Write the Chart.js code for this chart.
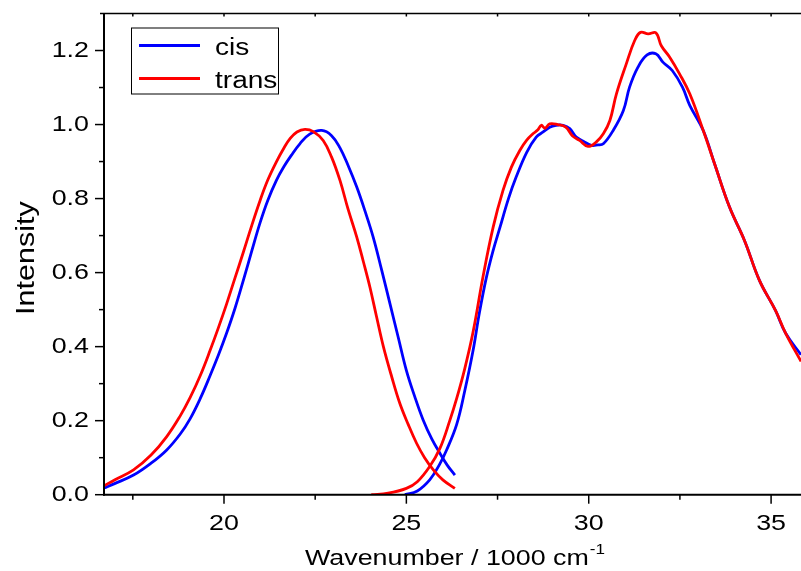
<!DOCTYPE html>
<html>
<head>
<meta charset="utf-8">
<script src="https://cdn.jsdelivr.net/npm/chart.js@4.4.0/dist/chart.umd.min.js"></script>
<style>
  html, body { margin: 0; padding: 0; background: #fff; }
  canvas { display: block; }
</style>
</head>
<body>
<canvas id="chart" width="801" height="571"></canvas>
<script>
// spectra (x in 1000 cm-1)
const cisVisX = [16.71, 17.0, 17.52, 18.0, 18.43, 18.8, 19.07, 19.35, 19.62, 19.85, 20.07, 20.3, 20.53, 20.76, 20.99, 21.2, 21.44, 21.64, 21.84, 22.08, 22.35, 22.68, 22.95, 23.18, 23.4, 23.64, 23.86, 24.09, 24.32, 24.55, 24.78, 25.0, 25.23, 25.46, 25.7, 25.92, 26.12, 26.33];
const cisVisY = [0.018, 0.03, 0.053, 0.085, 0.121, 0.164, 0.205, 0.26, 0.322, 0.378, 0.436, 0.503, 0.579, 0.658, 0.735, 0.795, 0.85, 0.886, 0.916, 0.948, 0.974, 0.984, 0.97, 0.937, 0.89, 0.831, 0.768, 0.696, 0.608, 0.516, 0.424, 0.336, 0.265, 0.202, 0.15, 0.112, 0.08, 0.053];
const cisUvX = [24.96, 25.3, 25.64, 25.9, 26.1, 26.38, 26.6, 26.83, 27.0, 27.19, 27.38, 27.56, 27.8, 28.01, 28.3, 28.56, 28.75, 28.93, 29.1, 29.3, 29.48, 29.66, 29.85, 30.07, 30.25, 30.4, 30.67, 30.95, 31.12, 31.35, 31.6, 31.84, 32.04, 32.29, 32.57, 32.77, 33.14, 33.45, 33.86, 34.27, 34.68, 35.12, 35.4, 35.82];
const cisUvY = [0.0, 0.01, 0.04, 0.08, 0.12, 0.19, 0.28, 0.39, 0.49, 0.585, 0.66, 0.72, 0.80, 0.858, 0.925, 0.966, 0.98, 0.993, 0.998, 0.998, 0.989, 0.966, 0.955, 0.944, 0.945, 0.948, 0.984, 1.038, 1.101, 1.155, 1.188, 1.191, 1.168, 1.146, 1.101, 1.052, 0.984, 0.894, 0.777, 0.687, 0.579, 0.498, 0.436, 0.378];
const transVisX = [16.71, 17.0, 17.52, 18.0, 18.43, 18.8, 19.07, 19.35, 19.62, 19.85, 20.07, 20.3, 20.53, 20.76, 20.99, 21.2, 21.44, 21.64, 21.81, 22.0, 22.22, 22.45, 22.72, 22.95, 23.18, 23.4, 23.64, 23.82, 24.0, 24.18, 24.37, 24.6, 24.82, 25.05, 25.28, 25.5, 25.74, 26.0, 26.33];
const transVisY = [0.024, 0.04, 0.067, 0.107, 0.157, 0.213, 0.262, 0.322, 0.39, 0.452, 0.515, 0.585, 0.655, 0.727, 0.795, 0.85, 0.9, 0.936, 0.962, 0.98, 0.987, 0.981, 0.957, 0.912, 0.849, 0.772, 0.696, 0.63, 0.561, 0.482, 0.40, 0.318, 0.247, 0.19, 0.139, 0.10, 0.067, 0.04, 0.017];
const transUvX = [24.04, 24.5, 25.0, 25.3, 25.64, 25.92, 26.19, 26.38, 26.6, 26.83, 27.1, 27.38, 27.65, 27.88, 28.11, 28.3, 28.47, 28.6, 28.7, 28.8, 28.93, 29.15, 29.37, 29.55, 29.75, 29.98, 30.21, 30.4, 30.58, 30.76, 31.03, 31.26, 31.42, 31.63, 31.84, 31.99, 32.22, 32.49, 32.77, 33.14, 33.45, 33.86, 34.27, 34.68, 35.12, 35.4, 35.82];
const transUvY = [0.0, 0.004, 0.017, 0.035, 0.076, 0.125, 0.20, 0.26, 0.34, 0.44, 0.588, 0.723, 0.822, 0.885, 0.930, 0.958, 0.975, 0.985, 0.998, 0.99, 1.002, 1.0, 0.993, 0.97, 0.957, 0.941, 0.953, 0.975, 1.011, 1.083, 1.164, 1.227, 1.249, 1.245, 1.248, 1.213, 1.182, 1.137, 1.083, 0.984, 0.894, 0.777, 0.687, 0.579, 0.498, 0.436, 0.36];

const seriesNames = ['cis', 'trans'];
const seriesColors = ['#0000ff', '#ff0000'];

const xMajorTicks = [20, 25, 30, 35];
const xMinorTicks = [17.5, 22.5, 27.5, 32.5];
const yMajorTicks = [0.0, 0.2, 0.4, 0.6, 0.8, 1.0, 1.2];
const yMinorTicks = [0.1, 0.3, 0.5, 0.7, 0.9, 1.1];

const xTitle = 'Wavenumber / 1000 cm';
const xTitleSup = '-1';
const yTitle = 'Intensity';

const FONT = '"Liberation Sans", Arial, sans-serif';
const SX = 1.22; // the text in the figure is wider than plain Arial

function pts(xs, ys) { return xs.map((v, i) => ({ x: v, y: ys[i] })); }

function text(ctx, str, x, y, size, align, baseline, rot) {
  ctx.save();
  ctx.translate(x, y);
  if (rot) ctx.rotate(rot);
  ctx.scale(SX, 1);
  ctx.font = size + 'px ' + FONT;
  ctx.fillStyle = '#000';
  ctx.textAlign = align;
  ctx.textBaseline = baseline;
  ctx.fillText(str, 0, 0);
  ctx.restore();
}

const frame = {
  id: 'frame',
  afterDraw(chart) {
    const { ctx, chartArea: a, scales: { x, y } } = chart;
    ctx.save();
    ctx.strokeStyle = '#000';
    const seg = (x1, y1, x2, y2, w) => {
      ctx.lineWidth = w;
      ctx.beginPath(); ctx.moveTo(x1, y1); ctx.lineTo(x2, y2); ctx.stroke();
    };
    // axes
    seg(a.left - 4, a.top, a.right, a.top, 1.5);
    seg(a.left, a.top, a.left, a.bottom + 1, 2);
    seg(a.left - 1, a.bottom, a.right, a.bottom, 2);
    // ticks
    xMajorTicks.forEach(v => {
      const p = x.getPixelForValue(v);
      seg(p, a.bottom, p, a.bottom + 9, 1.5);
      seg(p, a.top, p, a.top + 3, 1.5);
    });
    xMinorTicks.forEach(v => {
      const p = x.getPixelForValue(v);
      seg(p, a.bottom, p, a.bottom + 5, 1.5);
      seg(p, a.top, p, a.top + 3, 1.5);
    });
    yMajorTicks.forEach(v => {
      const p = y.getPixelForValue(v);
      seg(a.left - 9, p, a.left, p, 1.5);
    });
    yMinorTicks.forEach(v => {
      const p = y.getPixelForValue(v);
      seg(a.left - 5, p, a.left, p, 1.5);
    });
    ctx.restore();

    // tick labels
    xMajorTicks.forEach(v => text(ctx, String(v), x.getPixelForValue(v), a.bottom + 29, 22, 'center', 'middle'));
    yMajorTicks.forEach(v => text(ctx, v.toFixed(1), a.left - 15, y.getPixelForValue(v), 22, 'right', 'middle'));

    // axis titles
    ctx.save();
    ctx.font = '22px ' + FONT;
    const wMain = ctx.measureText(xTitle).width * SX;
    ctx.font = '14px ' + FONT;
    const wSup = ctx.measureText(xTitleSup).width * SX;
    ctx.restore();
    const cx = (a.left + a.right) / 2;
    const startX = cx - (wMain + wSup) / 2 + 2;
    text(ctx, xTitle, startX, 565, 22, 'left', 'alphabetic');
    text(ctx, xTitleSup, startX + wMain + 1, 554, 14, 'left', 'alphabetic');
    text(ctx, yTitle, 27, (a.top + a.bottom) / 2 + 4, 25, 'center', 'middle', -Math.PI / 2);

    // legend
    const lx = a.left + 27, ly = a.top + 14;
    ctx.save();
    ctx.strokeStyle = '#000';
    ctx.lineWidth = 1;
    ctx.strokeRect(lx + 0.5, ly + 0.5, 147, 66);
    seriesNames.forEach((name, i) => {
      const rowY = ly + 18 + i * 33;
      ctx.strokeStyle = seriesColors[i];
      ctx.lineWidth = 2.8;
      ctx.beginPath(); ctx.moveTo(lx + 8, rowY); ctx.lineTo(lx + 69, rowY); ctx.stroke();
      text(ctx, name, lx + 84, rowY + 9, 23, 'left', 'alphabetic');
    });
    ctx.restore();
  }
};

const lineStyle = { showLine: true, pointRadius: 0, borderWidth: 2.8, fill: false, tension: 0.4 };

new Chart(document.getElementById('chart'), {
  type: 'scatter',
  data: {
    datasets: [
      { label: seriesNames[1], data: pts(transVisX, transVisY), borderColor: seriesColors[1], order: 0, ...lineStyle },
      { label: seriesNames[1], data: pts(transUvX, transUvY), borderColor: seriesColors[1], order: 0, ...lineStyle },
      { label: seriesNames[0], data: pts(cisVisX, cisVisY), borderColor: seriesColors[0], order: 1, ...lineStyle },
      { label: seriesNames[0], data: pts(cisUvX, cisUvY), borderColor: seriesColors[0], order: 1, ...lineStyle }
    ]
  },
  options: {
    responsive: false,
    animation: false,
    devicePixelRatio: 1,
    layout: { padding: { top: 13.5, right: 0, left: 0, bottom: 0 } },
    plugins: { legend: { display: false }, tooltip: { enabled: false } },
    scales: {
      x: {
        type: 'linear', min: 16.71, max: 35.82,
        grid: { display: false }, border: { display: false },
        ticks: { display: false },
        afterFit(s) { s.height = 76.3; }
      },
      y: {
        min: 0, max: 1.3,
        grid: { display: false }, border: { display: false },
        ticks: { display: false },
        afterFit(s) { s.width = 104; }
      }
    }
  },
  plugins: [frame]
});
</script>
</body>
</html>
